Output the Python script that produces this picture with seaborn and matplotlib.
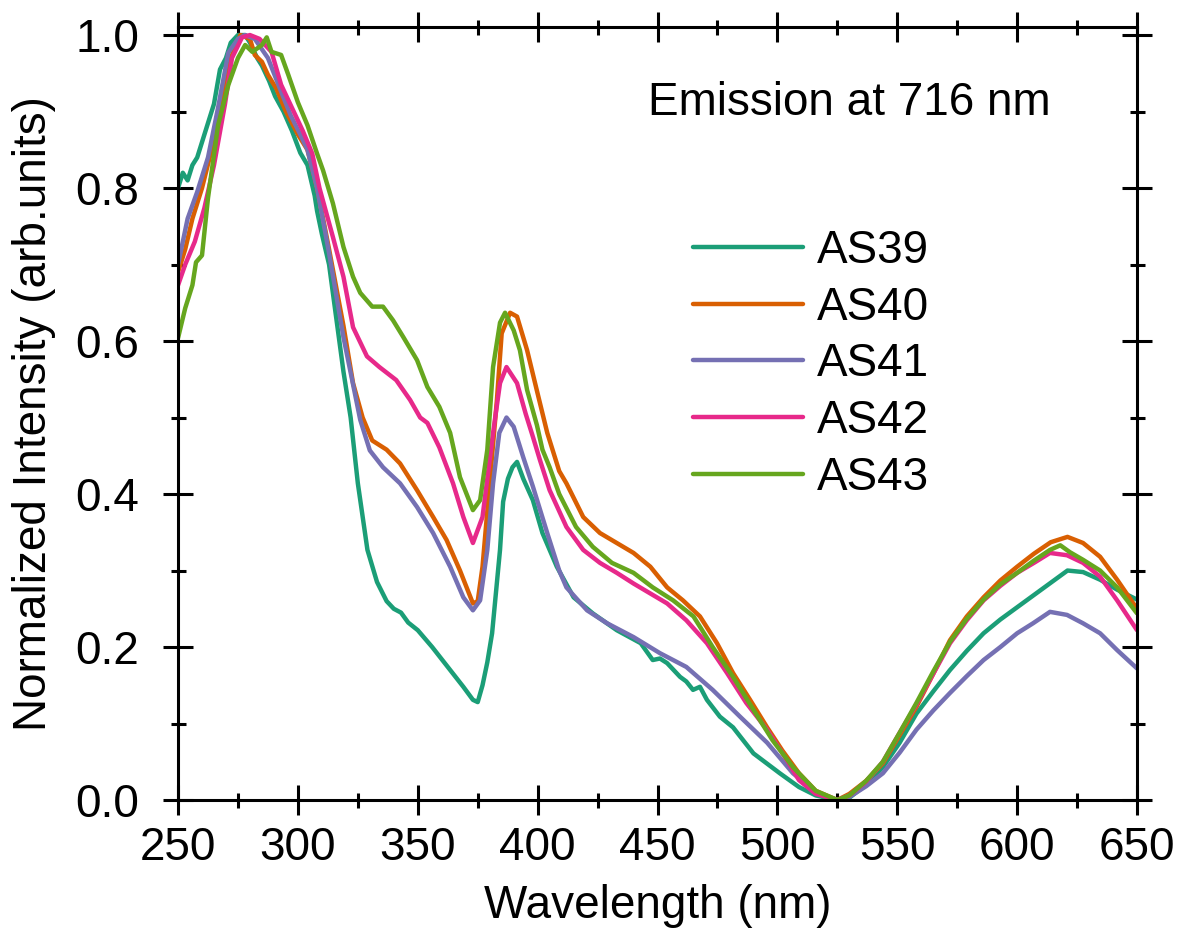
import pandas as pd
import numpy as np
import matplotlib
matplotlib.use("Agg")
import matplotlib.pyplot as plt
import seaborn as sns
from matplotlib.ticker import MultipleLocator, FormatStrFormatter

# Excitation spectra (wavelength in nm, normalized intensity)
wl_as39 = [250, 252, 254, 256, 258, 261, 265, 267.5, 270, 272, 275, 278, 280, 283, 285, 288,
           290.5, 294, 297.5, 301, 304, 307, 308, 310, 313, 316, 319, 322, 325, 329, 333, 337,
           340, 343, 346, 350, 356, 363.5, 369, 373, 375, 377, 379, 381, 384.3, 385.6, 387.6,
           389.5, 391.4, 394, 398, 402, 408, 415, 423, 433, 443, 448, 451, 454, 459.4, 462,
           464.8, 467.7, 470.6, 476, 481.5, 490, 501, 509, 516, 525, 530, 537, 544, 551, 558,
           565, 572, 579, 586, 593, 600, 607, 614, 621, 627.5, 634.6, 641.7, 650]
int_as39 = [0.80, 0.82, 0.81, 0.83, 0.84, 0.87, 0.91, 0.955, 0.97, 0.99, 1.0, 1.0, 0.99, 0.97,
            0.96, 0.94, 0.92, 0.90, 0.875, 0.846, 0.83, 0.79, 0.77, 0.74, 0.70, 0.63, 0.56,
            0.50, 0.414, 0.327, 0.285, 0.26, 0.25, 0.245, 0.232, 0.222, 0.20, 0.17, 0.148,
            0.131, 0.128, 0.15, 0.18, 0.218, 0.327, 0.39, 0.42, 0.435, 0.442, 0.42, 0.392,
            0.349, 0.305, 0.265, 0.244, 0.222, 0.205, 0.183, 0.185, 0.179, 0.161, 0.155, 0.144,
            0.148, 0.131, 0.109, 0.095, 0.061, 0.035, 0.017, 0.006, 0.0, 0.003, 0.02, 0.043,
            0.075, 0.113, 0.142, 0.17, 0.195, 0.218, 0.236, 0.252, 0.268, 0.284, 0.30, 0.298,
            0.288, 0.275, 0.262]

wl_as40 = [250, 253, 256, 260, 264, 268, 272, 276, 280, 282, 285, 287.5, 291, 295, 300, 304,
           308, 313, 319, 323, 327, 331, 337, 342.6, 349.7, 356.4, 362, 367.6, 373, 375, 377,
           380, 383, 385, 388.5, 391.4, 395.6, 399.7, 404, 409, 412, 419, 426, 433, 440, 447,
           454, 460.6, 467.7, 474.8, 481.5, 488.6, 495.7, 502, 509, 516, 525, 530, 537, 544,
           551, 558, 565, 572, 579, 586, 593, 600, 607, 614, 621, 627.5, 634.6, 641.7, 650]
int_as40 = [0.69, 0.72, 0.76, 0.80, 0.85, 0.91, 0.97, 1.0, 0.995, 0.974, 0.965, 0.948, 0.93,
            0.90, 0.87, 0.85, 0.80, 0.72, 0.62, 0.545, 0.50, 0.47, 0.458, 0.44, 0.405, 0.37,
            0.34, 0.30, 0.257, 0.26, 0.305, 0.414, 0.523, 0.61, 0.637, 0.632, 0.588, 0.535,
            0.48, 0.43, 0.414, 0.37, 0.349, 0.336, 0.323, 0.305, 0.278, 0.261, 0.24, 0.205,
            0.166, 0.131, 0.095, 0.065, 0.035, 0.012, 0.0, 0.008, 0.025, 0.048, 0.085, 0.122,
            0.165, 0.209, 0.24, 0.265, 0.287, 0.305, 0.322, 0.337, 0.344, 0.336, 0.318, 0.288,
            0.25]

wl_as41 = [250, 254, 258, 262.5, 266.7, 271, 275, 278, 282, 287.5, 293, 297, 301, 304, 308,
           313, 319, 326, 330, 335.5, 342.6, 349.7, 356.4, 363.5, 369, 373, 376, 379, 381.4,
           384, 387, 390, 394, 398, 404, 409, 412, 420.6, 429, 440, 451, 462, 473, 484.4,
           495.7, 506.5, 516, 525, 530, 537, 544, 551, 558, 565, 572, 579, 586, 593, 600,
           606.6, 613.7, 620.8, 627.5, 634.6, 641.7, 650]
int_as41 = [0.70, 0.76, 0.795, 0.84, 0.905, 0.977, 0.995, 1.0, 0.995, 0.97, 0.926, 0.895, 0.87,
            0.85, 0.80, 0.715, 0.605, 0.497, 0.457, 0.435, 0.414, 0.383, 0.349, 0.305, 0.265,
            0.248, 0.261, 0.327, 0.414, 0.48, 0.50, 0.488, 0.448, 0.41, 0.349, 0.30, 0.278,
            0.248, 0.231, 0.213, 0.192, 0.174, 0.144, 0.109, 0.075, 0.035, 0.01, 0.0, 0.004,
            0.018, 0.035, 0.062, 0.092, 0.117, 0.14, 0.162, 0.183, 0.20, 0.218, 0.231, 0.246,
            0.242, 0.231, 0.218, 0.196, 0.172]

wl_as42 = [250, 253, 257, 261, 265, 269.6, 272.5, 276.7, 280, 284, 289, 293, 297.5, 302, 306,
           309, 314.6, 319, 323, 328.8, 334, 341, 346.8, 351, 354, 359, 364.7, 369, 373, 377,
           381.4, 384.3, 387, 391.4, 395, 398, 401, 405, 412, 419, 426, 433, 440, 447, 454,
           462, 470.6, 479, 487, 495.7, 504, 509, 516, 525, 530, 537, 544, 551, 558, 565, 572,
           579, 586, 593, 600, 607, 613.7, 620.8, 627.5, 634.6, 641.7, 650]
int_as42 = [0.673, 0.70, 0.73, 0.774, 0.83, 0.91, 0.97, 0.997, 1.0, 0.995, 0.978, 0.935, 0.905,
            0.875, 0.845, 0.80, 0.736, 0.684, 0.618, 0.58, 0.566, 0.549, 0.523, 0.50, 0.493,
            0.461, 0.414, 0.37, 0.336, 0.37, 0.48, 0.545, 0.566, 0.545, 0.505, 0.475, 0.444,
            0.405, 0.357, 0.327, 0.31, 0.297, 0.283, 0.27, 0.257, 0.235, 0.205, 0.166, 0.127,
            0.092, 0.052, 0.026, 0.008, 0.0, 0.006, 0.024, 0.05, 0.088, 0.125, 0.165, 0.205,
            0.235, 0.261, 0.28, 0.297, 0.31, 0.323, 0.32, 0.31, 0.292, 0.261, 0.222]

wl_as43 = [250, 253, 256, 257.5, 260, 262.5, 266.7, 271, 275, 278, 281, 285, 287, 289, 293,
           296, 300, 304, 308, 310.5, 314.6, 319, 323, 326, 331, 335.5, 339.7, 344, 349.7,
           354, 359, 363.5, 367.6, 373, 376, 379, 381.4, 384.3, 386.4, 390, 392.6, 395.6,
           399.7, 402, 405, 409, 416, 423, 431, 440, 448, 456.5, 465, 473, 481.5, 490, 498,
           506.5, 516, 525, 530, 537, 544, 551, 558, 565, 572, 579, 586, 593, 600, 607, 613.7,
           618, 622, 627.5, 634.6, 641.7, 650]
int_as43 = [0.604, 0.643, 0.673, 0.703, 0.712, 0.787, 0.882, 0.935, 0.97, 0.987, 0.978, 0.987,
            0.997, 0.978, 0.974, 0.948, 0.912, 0.882, 0.845, 0.823, 0.78, 0.723, 0.684, 0.663,
            0.645, 0.645, 0.627, 0.605, 0.575, 0.54, 0.514, 0.48, 0.422, 0.379, 0.392, 0.458,
            0.566, 0.624, 0.637, 0.614, 0.588, 0.536, 0.49, 0.458, 0.435, 0.40, 0.357, 0.331,
            0.31, 0.297, 0.278, 0.261, 0.24, 0.20, 0.161, 0.118, 0.078, 0.043, 0.012, 0.0,
            0.006, 0.025, 0.05, 0.088, 0.127, 0.168, 0.207, 0.237, 0.262, 0.282, 0.297, 0.313,
            0.327, 0.333, 0.324, 0.314, 0.30, 0.278, 0.244]

samples = ["AS39", "AS40", "AS41", "AS42", "AS43"]
wavelengths = [wl_as39, wl_as40, wl_as41, wl_as42, wl_as43]
intensities = [int_as39, int_as40, int_as41, int_as42, int_as43]

frames = []
for name, wl, it in zip(samples, wavelengths, intensities):
    frames.append(pd.DataFrame({"Wavelength": wl, "Intensity": it, "Sample": name}))
df = pd.concat(frames, ignore_index=True)

sns.set_style("ticks")
plt.rcParams["font.family"] = ["Liberation Sans", "DejaVu Sans"]
plt.rcParams.update({"text.color": "black", "axes.labelcolor": "black",
                     "axes.edgecolor": "black", "xtick.color": "black",
                     "ytick.color": "black"})

FS = 33

fig = plt.figure(figsize=(11.79, 9.32), dpi=100)
ax = fig.add_axes([0.151, 0.1416, 0.8134, 0.8294])

sns.lineplot(data=df, x="Wavelength", y="Intensity", hue="Sample", hue_order=samples,
             palette="Dark2", estimator=None, sort=False, linewidth=3.2, ax=ax)

ax.set_xlim(250, 650)
ax.set_ylim(0, 1.0105)
ax.xaxis.set_major_locator(MultipleLocator(50))
ax.xaxis.set_minor_locator(MultipleLocator(25))
ax.yaxis.set_major_locator(MultipleLocator(0.2))
ax.yaxis.set_minor_locator(MultipleLocator(0.1))
ax.yaxis.set_major_formatter(FormatStrFormatter("%.1f"))

for sp in ax.spines.values():
    sp.set_linewidth(2.2)
    sp.set_visible(True)
ax.tick_params(which="both", direction="inout", top=True, right=True,
               width=2.2, labelsize=FS, pad=8)
ax.tick_params(axis="y", pad=17)
ax.tick_params(which="major", length=21.6)
ax.tick_params(which="minor", length=10.8)

ax.set_xlabel("Wavelength (nm)", fontsize=FS, labelpad=10)
ax.set_ylabel("Normalized Intensity (arb.units)", fontsize=FS, labelpad=14)

ax.text(0.49, 0.902, "Emission at 716 nm", transform=ax.transAxes,
        fontsize=FS, ha="left", va="center")

handles, labels = ax.get_legend_handles_labels()
ax.legend(handles, labels, loc="upper left", bbox_to_anchor=(0.537, 0.739),
          frameon=False, fontsize=FS, handlelength=2.4, handletextpad=0.3,
          labelspacing=0.28, borderpad=0, borderaxespad=0)

fig.savefig("out.png", dpi=100)
